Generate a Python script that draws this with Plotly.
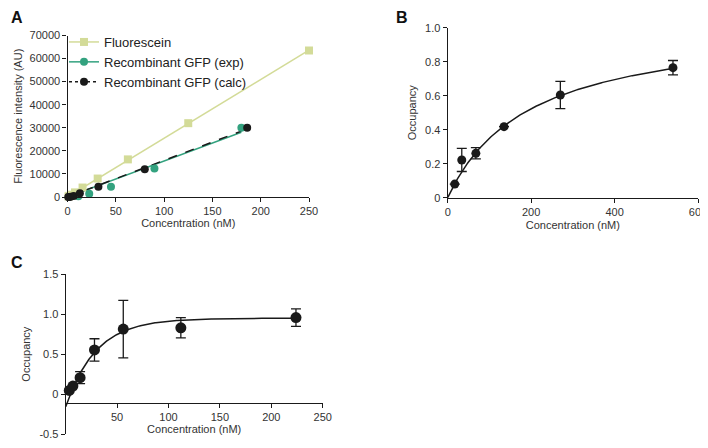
import numpy as np
import plotly.graph_objects as go

# ---------------- data ----------------
# Panel A
fl_x = [0.98, 1.95, 3.9, 7.8, 15.6, 31.25, 62.5, 125, 250]
fl_y = [250, 500, 1000, 2000, 4100, 8000, 16300, 32000, 63500]
exp_x = [1.4, 2.8, 5.6, 11.25, 22.5, 45, 90, 180]
exp_y = [-300, -250, -100, 300, 1400, 4400, 12300, 30000]
calc_x = [0.8, 1.6, 3.2, 6.4, 12.8, 32, 80, 186]
calc_y = [0, 50, 150, 400, 1600, 4400, 12000, 30000]
a_xticks = [0, 50, 100, 150, 200, 250]
a_yticks = [0, 10000, 20000, 30000, 40000, 50000, 60000, 70000]

# Panel B
b_x = [16.9, 33.75, 67.5, 135, 270, 540]
b_y = [0.08, 0.222, 0.261, 0.418, 0.604, 0.765]
b_err = [0, 0.068, 0.033, 0, 0.08, 0.042]
b_bmax, b_kd = 1.036, 196.0          # one-site binding fit
b_xticks = [0, 200, 400, 600]
b_yticks = [0, 0.2, 0.4, 0.6, 0.8, 1.0]
b_yticktext = ["0", "0.2", "0.4", "0.6", "0.8", "1.0"]

# Panel C
c_x = [3.5, 7, 14, 28, 56, 112, 224]
c_y = [0.045, 0.1, 0.206, 0.553, 0.814, 0.83, 0.958]
c_err = [0, 0, 0.075, 0.14, 0.36, 0.127, 0.11]
c_y0, c_plateau, c_k = -0.16, 0.95, 0.034   # one-phase association fit
c_xticks = [50, 100, 150, 200, 250]
c_yticks = [-0.5, 0, 0.5, 1.0, 1.5]
c_yticktext = ["-0.5", "0", "0.5", "1.0", "1.5"]

# ---------------- styles ----------------
OFF = 8                      # default page body margin
W, H = 708 - OFF, 448 - OFF
FONT = "Liberation Sans, Arial, Helvetica, sans-serif"
FL_COL = "#d3db98"
EXP_COL = "#33a27f"
BLK = "#1a1a1a"
TICKCOL = "#333333"

def px_x(p):
    return (p - OFF) / W

def px_y(p):
    return (H - (p - OFF)) / H

fig = go.Figure()

# ---- Panel A fit lines (least squares through origin) ----
def slope0(x, y):
    x = np.asarray(x, float); y = np.asarray(y, float)
    return float((x * y).sum() / (x * x).sum())

s_fl = slope0(fl_x, fl_y)
s_exp = slope0(exp_x, exp_y)
s_calc = slope0(calc_x, calc_y)
fx = np.array([0, max(fl_x)])
gx = np.array([0, max(exp_x)])

fig.add_trace(go.Scatter(x=fx, y=s_fl * fx, mode="lines", line=dict(color=FL_COL, width=1.5),
                         showlegend=False, xaxis="x", yaxis="y"))
fig.add_trace(go.Scatter(x=gx, y=s_exp * gx, mode="lines", line=dict(color=EXP_COL, width=1.5),
                         showlegend=False, xaxis="x", yaxis="y"))
fig.add_trace(go.Scatter(x=gx, y=s_calc * gx, mode="lines", line=dict(color=BLK, width=1.5, dash="dash"),
                         showlegend=False, xaxis="x", yaxis="y"))

fig.add_trace(go.Scatter(x=fl_x, y=fl_y, mode="markers",
                         marker=dict(symbol="square", size=8, color=FL_COL),
                         showlegend=False, cliponaxis=False, xaxis="x", yaxis="y"))
fig.add_trace(go.Scatter(x=exp_x, y=exp_y, mode="markers",
                         marker=dict(symbol="circle", size=8, color=EXP_COL),
                         showlegend=False, cliponaxis=False, xaxis="x", yaxis="y"))
fig.add_trace(go.Scatter(x=calc_x, y=calc_y, mode="markers",
                         marker=dict(symbol="circle", size=8, color=BLK),
                         showlegend=False, cliponaxis=False, xaxis="x", yaxis="y"))

# legend entries
fig.add_trace(go.Scatter(x=[None], y=[None], mode="lines+markers", name="Fluorescein",
                         line=dict(color=FL_COL, width=1.5),
                         marker=dict(symbol="square", size=8, color=FL_COL), xaxis="x", yaxis="y"))
fig.add_trace(go.Scatter(x=[None], y=[None], mode="lines+markers", name="Recombinant GFP (exp)",
                         line=dict(color=EXP_COL, width=1.5),
                         marker=dict(symbol="circle", size=8, color=EXP_COL), xaxis="x", yaxis="y"))
fig.add_trace(go.Scatter(x=[None], y=[None], mode="lines+markers", name="Recombinant GFP (calc)",
                         line=dict(color=BLK, width=1.5, dash="dot"),
                         marker=dict(symbol="circle", size=8, color=BLK), xaxis="x", yaxis="y"))

# ---- Panel B ----
bx = np.linspace(0, max(b_x), 200)
fig.add_trace(go.Scatter(x=bx, y=b_bmax * bx / (b_kd + bx), mode="lines",
                         line=dict(color=BLK, width=1.5), showlegend=False, xaxis="x2", yaxis="y2"))
fig.add_trace(go.Scatter(x=b_x, y=b_y, mode="markers",
                         marker=dict(symbol="circle", size=9, color=BLK),
                         error_y=dict(type="data", array=b_err, color=BLK, thickness=1.3, width=5),
                         showlegend=False, cliponaxis=False, xaxis="x2", yaxis="y2"))

# ---- Panel C ----
cx = np.linspace(0, max(c_x), 300)
fig.add_trace(go.Scatter(x=cx, y=c_plateau - (c_plateau - c_y0) * np.exp(-c_k * cx), mode="lines",
                         line=dict(color=BLK, width=1.5), showlegend=False, xaxis="x3", yaxis="y3"))
fig.add_trace(go.Scatter(x=c_x, y=c_y, mode="markers",
                         marker=dict(symbol="circle", size=11, color=BLK),
                         error_y=dict(type="data", array=c_err, color=BLK, thickness=1.3, width=5),
                         showlegend=False, cliponaxis=False, xaxis="x3", yaxis="y3"))

axis_common = dict(showgrid=False, zeroline=False, showline=True, linecolor=BLK, linewidth=1.3,
                   ticks="outside", ticklen=4, tickwidth=1.2, tickcolor=BLK, automargin=False,
                   tickfont=dict(family=FONT, size=11, color=TICKCOL),
                   title_font=dict(family=FONT, size=11, color=TICKCOL))

fig.update_layout(
    width=W, height=H, margin=dict(l=0, r=0, t=0, b=0, autoexpand=False),
    paper_bgcolor="white", plot_bgcolor="white",
    font=dict(family=FONT, color=TICKCOL),
    xaxis=dict(axis_common, domain=[px_x(67.5), px_x(309)], range=[0, 250], tickvals=a_xticks,
               anchor="y", title=dict(text="Concentration (nM)", standoff=2)),
    yaxis=dict(axis_common, domain=[px_y(197), px_y(35.5)], range=[0, 70000], tickvals=a_yticks,
               tickformat="d", anchor="x", title=dict(text="Fluorescence intensity (AU)", standoff=4)),
    xaxis2=dict(axis_common, domain=[px_x(447.7), px_x(698)], range=[0, 600], tickvals=b_xticks,
                anchor="y2", title=dict(text="Concentration (nM)", standoff=4)),
    yaxis2=dict(axis_common, domain=[px_y(197.7), px_y(27.7)], range=[0, 1.0], tickvals=b_yticks,
                ticktext=b_yticktext, anchor="x2", title=dict(text="Occupancy", standoff=6)),
    xaxis3=dict(axis_common, domain=[px_x(65.7), px_x(322.7)], range=[0, 250], tickvals=c_xticks,
                anchor="free", position=px_y(402.7), title=dict(text="Concentration (nM)", standoff=2)),
    yaxis3=dict(axis_common, domain=[px_y(434), px_y(274.3)], range=[-0.5, 1.5], tickvals=c_yticks,
                ticktext=c_yticktext, anchor="x3", title=dict(text="Occupancy", standoff=6)),
    legend=dict(x=px_x(64), y=px_y(27), xanchor="left", yanchor="top",
                font=dict(family=FONT, size=13, color="#222222"), bgcolor="rgba(0,0,0,0)",
                itemwidth=30, tracegroupgap=0),
    annotations=[
        dict(text="<b>A</b>", x=px_x(9), y=px_y(17), xref="paper", yref="paper",
             xanchor="left", yanchor="middle", showarrow=False,
             font=dict(family=FONT, size=16, color="#111111")),
        dict(text="<b>B</b>", x=px_x(394), y=px_y(17), xref="paper", yref="paper",
             xanchor="left", yanchor="middle", showarrow=False,
             font=dict(family=FONT, size=16, color="#111111")),
        dict(text="<b>C</b>", x=px_x(9), y=px_y(262), xref="paper", yref="paper",
             xanchor="left", yanchor="middle", showarrow=False,
             font=dict(family=FONT, size=16, color="#111111")),
    ],
)

fig.write_html("out.html")
